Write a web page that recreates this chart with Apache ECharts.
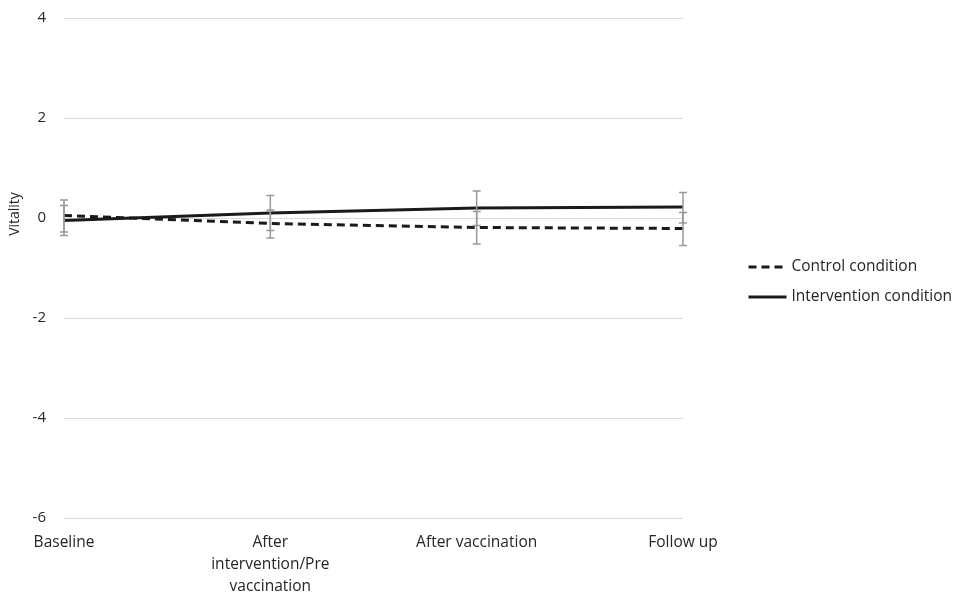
<!DOCTYPE html>
<html><head><meta charset="utf-8">
<script src="https://cdn.jsdelivr.net/npm/echarts@6/dist/echarts.min.js"></script>
<style>html,body{margin:0;padding:0;background:#fff}#c{width:959px;height:596px}</style>
</head><body><div id="c"></div>
<script>
const categories = ['Baseline', 'After\nintervention/Pre\nvaccination', 'After vaccination', 'Follow up'];
const controlMean = [0.05, -0.11, -0.19, -0.21];
const controlLow = [-0.28, -0.40, -0.52, -0.55];
const controlHigh = [0.36, 0.16, 0.13, 0.11];
const interventionMean = [-0.05, 0.10, 0.20, 0.22];
const interventionLow = [-0.35, -0.25, -0.15, -0.10];
const interventionHigh = [0.25, 0.45, 0.54, 0.51];
const yTicks = [-6, -4, -2, 0, 2, 4];

const font = 'Open Sans, Noto Sans, sans-serif';
const txt = '#262626';
function errData(low, high) { return low.map((l, i) => [i, l, high[i]]); }
function errSeries(low, high) {
  return {
    type: 'custom', silent: true, z: 4,
    data: errData(low, high),
    renderItem: function (params, api) {
      const x = api.value(0);
      const p1 = api.coord([x, api.value(1)]);
      const p2 = api.coord([x, api.value(2)]);
      const hw = 4;
      const st = { stroke: '#999999', lineWidth: 1.5 };
      return { type: 'group', children: [
        { type: 'line', shape: { x1: p1[0], y1: p1[1], x2: p2[0], y2: p2[1] }, style: st },
        { type: 'line', shape: { x1: p1[0] - hw, y1: p1[1], x2: p1[0] + hw, y2: p1[1] }, style: st },
        { type: 'line', shape: { x1: p2[0] - hw, y1: p2[1], x2: p2[0] + hw, y2: p2[1] }, style: st }
      ]};
    }
  };
}
const chart = echarts.init(document.getElementById('c'));
chart.setOption({
  animation: false,
  textStyle: { fontFamily: font },
  grid: { left: 64, right: 276, top: 18, bottom: 78, containLabel: false, outerBoundsMode: 'none' },
  legend: {
    orient: 'vertical', left: 742, top: 254, itemGap: 14,
    itemWidth: 38, itemHeight: 12,
    itemStyle: { opacity: 0 },
    lineStyle: { width: 3 },
    textStyle: { fontSize: 15.5, color: txt, fontFamily: font },
    data: ['Control condition', 'Intervention condition']
  },
  xAxis: {
    type: 'category', data: categories, boundaryGap: false,
    axisLine: { show: false }, axisTick: { show: false },
    axisLabel: { fontSize: 15.5, color: txt, margin: 14, lineHeight: 22, interval: 0 }
  },
  yAxis: {
    type: 'value', min: -6, max: 4, interval: 2,
    axisLine: { show: false }, axisTick: { show: false },
    axisLabel: { fontSize: 15, color: txt, margin: 18,
      formatter: v => yTicks.includes(v) ? String(v) : '' },
    splitLine: { lineStyle: { color: '#d9d9d9', width: 1 } }
  },
  graphic: [{
    type: 'text', x: 15, y: 214, rotation: Math.PI / 2,
    style: { text: 'Vitality', fontSize: 14, fill: txt, fontFamily: font, align: 'center', verticalAlign: 'middle' }
  }],
  series: [
    { name: 'Control condition', type: 'line', data: controlMean, symbol: 'none', z: 3,
      lineStyle: { color: '#1a1a1a', width: 3, type: [8, 5] }, itemStyle: { color: '#1a1a1a' } },
    { name: 'Intervention condition', type: 'line', data: interventionMean, symbol: 'none', z: 3,
      lineStyle: { color: '#1a1a1a', width: 3 }, itemStyle: { color: '#1a1a1a' } },
    errSeries(controlLow, controlHigh),
    errSeries(interventionLow, interventionHigh)
  ]
});
</script></body></html>
